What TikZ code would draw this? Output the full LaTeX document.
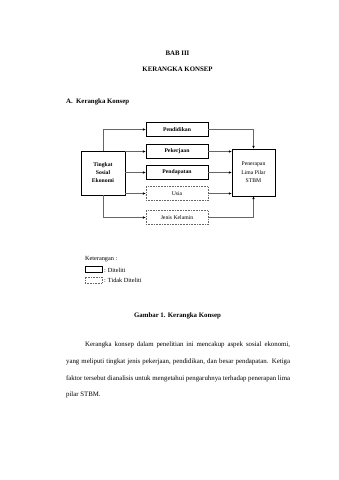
\documentclass[tikz,border=0pt]{standalone}
\usepackage{fontspec}
\setmainfont{Liberation Serif}
\usetikzlibrary{arrows.meta}
\begin{document}
\begin{tikzpicture}[x=1.755pt,y=-1.755pt,
  solidbox/.style={draw=black, line width=0.9pt, inner sep=0pt, minimum width=62*1.755pt, minimum height=14*1.755pt, font=\bfseries\fontsize{10}{12}\selectfont},
  dotbox/.style={draw=black!60, dotted, line width=0.8pt, inner sep=0pt, minimum width=62*1.755pt, minimum height=14*1.755pt, font=\fontsize{10}{12}\selectfont},
  conn/.style={draw=black!60, line width=0.6pt, -{Latex[length=5pt,width=4pt,color=black]}},
  title/.style={font=\bfseries\fontsize{12}{14}\selectfont, inner sep=0pt},
  body/.style={font=\fontsize{12}{14}\selectfont, inner sep=0pt, anchor=west},
  legtext/.style={font=\fontsize{11}{13}\selectfont, inner sep=0pt, anchor=west}
]
\useasboundingbox (0,0) rectangle (339,480);

% titles
\node[title] (bab) at (177.5,53) {BAB III};
\node[title] (kk) at (177.5,69) {KERANGKA KONSEP};
\node[title, anchor=west] (sec) at (66,101.5) {A.\hspace{6pt}Kerangka Konsep};

% diagram boxes
\node[draw=black, line width=0.9pt, inner sep=0pt, minimum width=44*1.755pt, minimum height=44*1.755pt, align=center, font=\bfseries\fontsize{10}{14}\selectfont] (tse) at (103,173) {Tingkat\\Sosial\\Ekonomi};
\node[draw=black, line width=0.9pt, inner sep=0pt, minimum width=43*1.755pt, minimum height=47*1.755pt, align=center, font=\fontsize{10}{15}\selectfont] (stbm) at (253.5,172.5) {Penerapan\\Lima Pilar\\STBM};

\node[solidbox] (pend) at (177,129.5) {Pendidikan};
\node[solidbox] (pek) at (177,151.5) {Pekerjaan};
\node[solidbox] (pdp) at (177,172.5) {Pendapatan};
\node[dotbox] (usia) at (177,193.5) {Usia};
\node[dotbox] (jk) at (177,217.5) {Jenis Kelamin};

% connectors from left box
\draw[conn] (tse.north) |- (pend.west);
\draw[conn] (tse.east |- pek.west) -- (pek.west);
\draw[conn] (tse.east |- pdp.west) -- (pdp.west);
\draw[conn] (tse.east |- usia.west) -- (usia.west);
\draw[conn] (tse.south) |- (jk.west);

% connectors to right box
\draw[conn] (pend.east) -| (stbm.north);
\draw[conn] (pek.east) -- (pek.east -| stbm.west);
\draw[conn] (pdp.east) -- (pdp.east -| stbm.west);
\draw[conn] (usia.east) -- (usia.east -| stbm.west);
\draw[conn] (jk.east) -| (stbm.south);

% legend
\node[legtext] (ket) at (85,259.5) {Keterangan :};
\node[draw=black, line width=0.8pt, inner sep=0pt, minimum width=17*1.755pt, minimum height=6*1.755pt] (legs) at (93.5,269.5) {};
\node[legtext] (legst) at (104,270) {: Diteliti};
\node[draw=black!60, dotted, line width=0.8pt, inner sep=0pt, minimum width=17*1.755pt, minimum height=6*1.755pt] (legd) at (93.5,280) {};
\node[legtext] (legdt) at (104,280.5) {: Tidak Diteliti};

% caption
\node[title] (cap) at (177.5,315.5) {Gambar 1. Kerangka Konsep};

% paragraph
\node[body] (p1) at (85,345) {\parbox{359.8pt}{\parfillskip=0pt Kerangka konsep dalam penelitian ini mencakup aspek sosial ekonomi,}};
\node[body] (p2) at (66,362) {\parbox{393.1pt}{\parfillskip=0pt yang meliputi tingkat jenis pekerjaan, pendidikan, dan besar pendapatan. Ketiga}};
\node[body] (p3) at (66,379) {\parbox{393.1pt}{\parfillskip=0pt faktor tersebut dianalisis untuk mengetahui pengaruhnya terhadap penerapan lima}};
\node[body] (p4) at (66,395) {pilar STBM.};
\end{tikzpicture}
\end{document}
